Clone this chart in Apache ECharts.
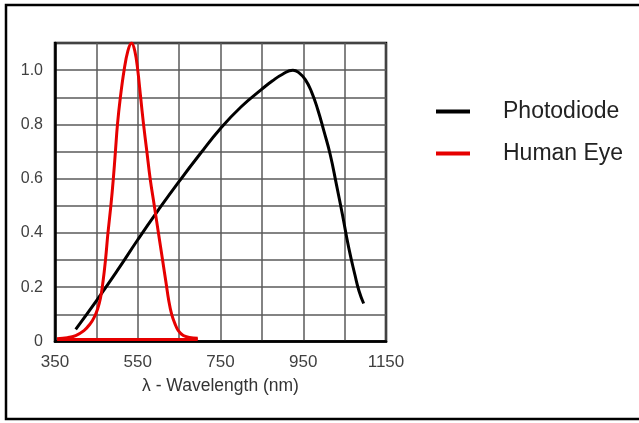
<!DOCTYPE html>
<html>
<head>
<meta charset="utf-8">
<script src="https://cdn.jsdelivr.net/npm/echarts@6/dist/echarts.min.js"></script>
<style>
html,body{margin:0;padding:0;background:#fff;}
#c{width:639px;height:423px;}
</style>
</head>
<body>
<div id="c"></div>
<script>
// Data
var photodiode = [
  [400,0.045],[450,0.15],[500,0.26],[550,0.375],[600,0.485],[650,0.59],
  [700,0.69],[750,0.785],[800,0.865],[850,0.93],[875,0.96],[900,0.985],
  [925,1.0],[940,0.99],[955,0.965],[970,0.92],[985,0.855],[1000,0.775],
  [1015,0.69],[1030,0.58],[1045,0.465],[1060,0.345],[1075,0.245],
  [1085,0.185],[1096,0.14]
];
var humanEye = [
  [355,0.01],[380,0.014],[400,0.022],[420,0.04],[435,0.065],[445,0.09],
  [453,0.12],[460,0.16],[466,0.22],[472,0.3],[478,0.4],[485,0.5],[491,0.6],
  [496,0.7],[501,0.8],[508,0.9],[517,1.0],[526,1.07],[535,1.1],[543,1.07],
  [550,1.0],[557,0.9],[564,0.8],[572,0.7],[580,0.6],[590,0.5],[600,0.4],
  [610,0.3],[618,0.22],[625,0.15],[632,0.1],[640,0.065],[648,0.04],
  [660,0.022],[675,0.015],[695,0.012]
];
var humanEyeBase = [[355,0.007],[695,0.007]];
var xTickLabels = [350,550,750,950,1150];
var yTickLabels = [0,0.2,0.4,0.6,0.8,1.0];

var chart = echarts.init(document.getElementById('c'), null, {renderer:'canvas'});
var font = "'Liberation Sans', Arial, sans-serif";
chart.setOption({
  animation:false,
  backgroundColor:'#fff',
  graphic:[{
    type:'rect', shape:{x:6,y:5,width:650,height:414},
    style:{fill:'none',stroke:'#000',lineWidth:2.5}, z:100, silent:true
  }],
  grid:{left:55,top:43,right:253,bottom:81.5,show:true,borderColor:'#000',borderWidth:2.5},
  legend:{
    orient:'vertical', left:436, top:100, padding:0, itemWidth:34, itemHeight:4, itemGap:19,
    data:[{name:'Photodiode',icon:'rect'},{name:'Human Eye',icon:'rect'}],
    textStyle:{fontFamily:font,fontSize:23,color:'#222',padding:[0,0,0,28],lineHeight:23}
  },
  xAxis:{
    type:'value', min:350, max:1150, interval:100,
    name:'\u03bb - Wavelength (nm)', nameLocation:'middle', nameGap:36,
    nameTextStyle:{fontFamily:font,fontSize:17.5,color:'#333'},
    axisLine:{show:true,lineStyle:{color:'#000',width:2.5}},
    axisTick:{show:false},
    axisLabel:{margin:12,fontFamily:font,fontSize:17,color:'#404040',
      formatter:function(v){return xTickLabels.indexOf(Math.round(v))>=0?String(Math.round(v)):'';}},
    splitLine:{show:true,lineStyle:{color:'#5a5a5a',width:1.5}}
  },
  yAxis:{
    type:'value', min:0, max:1.1, interval:0.1,
    axisLine:{show:true,lineStyle:{color:'#000',width:2.5}},
    axisTick:{show:false},
    axisLabel:{margin:12,fontFamily:font,fontSize:16,color:'#404040',
      formatter:function(v){
        var r=Math.round(v*10)/10;
        for(var i=0;i<yTickLabels.length;i++){ if(Math.abs(yTickLabels[i]-r)<1e-6) return r===0?'0':r.toFixed(1); }
        return '';
      }},
    splitLine:{show:true,lineStyle:{color:'#5a5a5a',width:1.5}}
  },
  series:[
    {name:'Photodiode',type:'line',data:photodiode,smooth:0.5,showSymbol:false,
     lineStyle:{color:'#000',width:3},itemStyle:{color:'#000'},z:3},
    {name:'Human Eye',type:'line',data:humanEye,smooth:0.4,showSymbol:false,
     lineStyle:{color:'#e60000',width:3},itemStyle:{color:'#e60000'},z:4},
    {name:'Human Eye',type:'line',data:humanEyeBase,showSymbol:false,
     lineStyle:{color:'#e60000',width:3},itemStyle:{color:'#e60000'},z:4}
  ]
});
</script>
</body>
</html>
